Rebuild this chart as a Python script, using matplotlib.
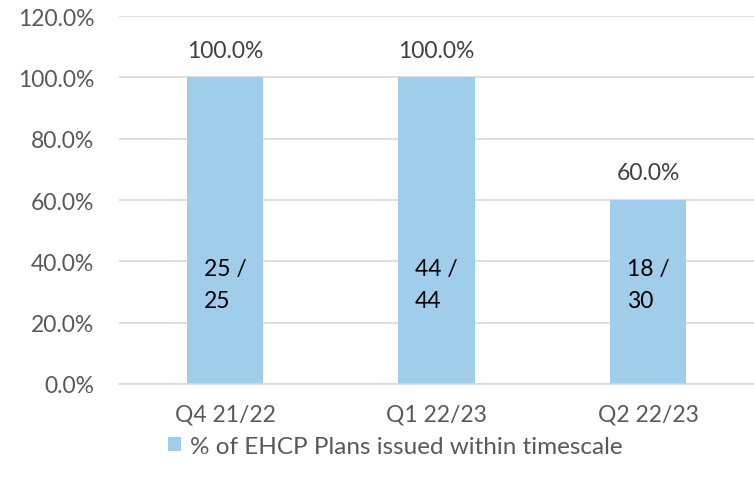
import matplotlib.pyplot as plt
from matplotlib.ticker import FuncFormatter
from matplotlib.patches import Patch

# quarterly EHCP figures: plans issued within timescale / total plans
quarters = ["Q4 21/22", "Q1 22/23", "Q2 22/23"]
issued_in_time = [25, 44, 18]
total_plans = [25, 44, 30]
pct_in_time = [100.0 * a / b for a, b in zip(issued_in_time, total_plans)]

bar_color = "#9FCDEA"
grid_color = "#D9D9D9"
text_grey = "#595959"
fs = 16.5

plt.rcParams["font.family"] = ["Lato", "DejaVu Sans"]

fig = plt.figure(figsize=(7.54, 4.89), dpi=100)
ax = fig.add_axes([0.158, 0.2127, 0.842, 0.7525])

x = range(len(quarters))
bars = ax.bar(x, pct_in_time, width=0.36, color=bar_color, zorder=2)

ax.set_xlim(-0.5, 2.5)
ax.set_ylim(0, 120)
ax.set_yticks(range(0, 121, 20))
ax.yaxis.set_major_formatter(FuncFormatter(lambda v, _: f"{v:.1f}%"))
ax.set_xticks(list(x))
ax.set_xticklabels(quarters)
ax.grid(axis="y", color=grid_color, linewidth=1.2, zorder=0)
for s in ["top", "right", "left"]:
    ax.spines[s].set_visible(False)
ax.spines["bottom"].set_color(grid_color)
ax.spines["bottom"].set_linewidth(1.2)
ax.tick_params(axis="both", length=0, labelsize=fs, labelcolor=text_grey)
ax.tick_params(axis="y", pad=18)
ax.tick_params(axis="x", pad=14)

# percentage above each bar, count inside
for i, (p, a, b) in enumerate(zip(pct_in_time, issued_in_time, total_plans)):
    ax.annotate(f"{p:.1f}%", (i, p), xytext=(0, 12), textcoords="offset points",
                ha="center", va="bottom", fontsize=fs, color="#404040")
    ax.text(i, 32.5, f"{a} /\n{b}", ha="center", va="center", multialignment="left",
            fontsize=fs, color="black", linespacing=1.65)

fig.legend(handles=[Patch(facecolor=bar_color, edgecolor="none")],
           labels=["% of EHCP Plans issued within timescale"],
           loc="center", bbox_to_anchor=(395 / 754, 1 - 447 / 489), frameon=False,
           fontsize=17.5, labelcolor=text_grey, handlelength=0.55, handleheight=0.55,
           handletextpad=0.35)

fig.savefig("out.png", dpi=100)
